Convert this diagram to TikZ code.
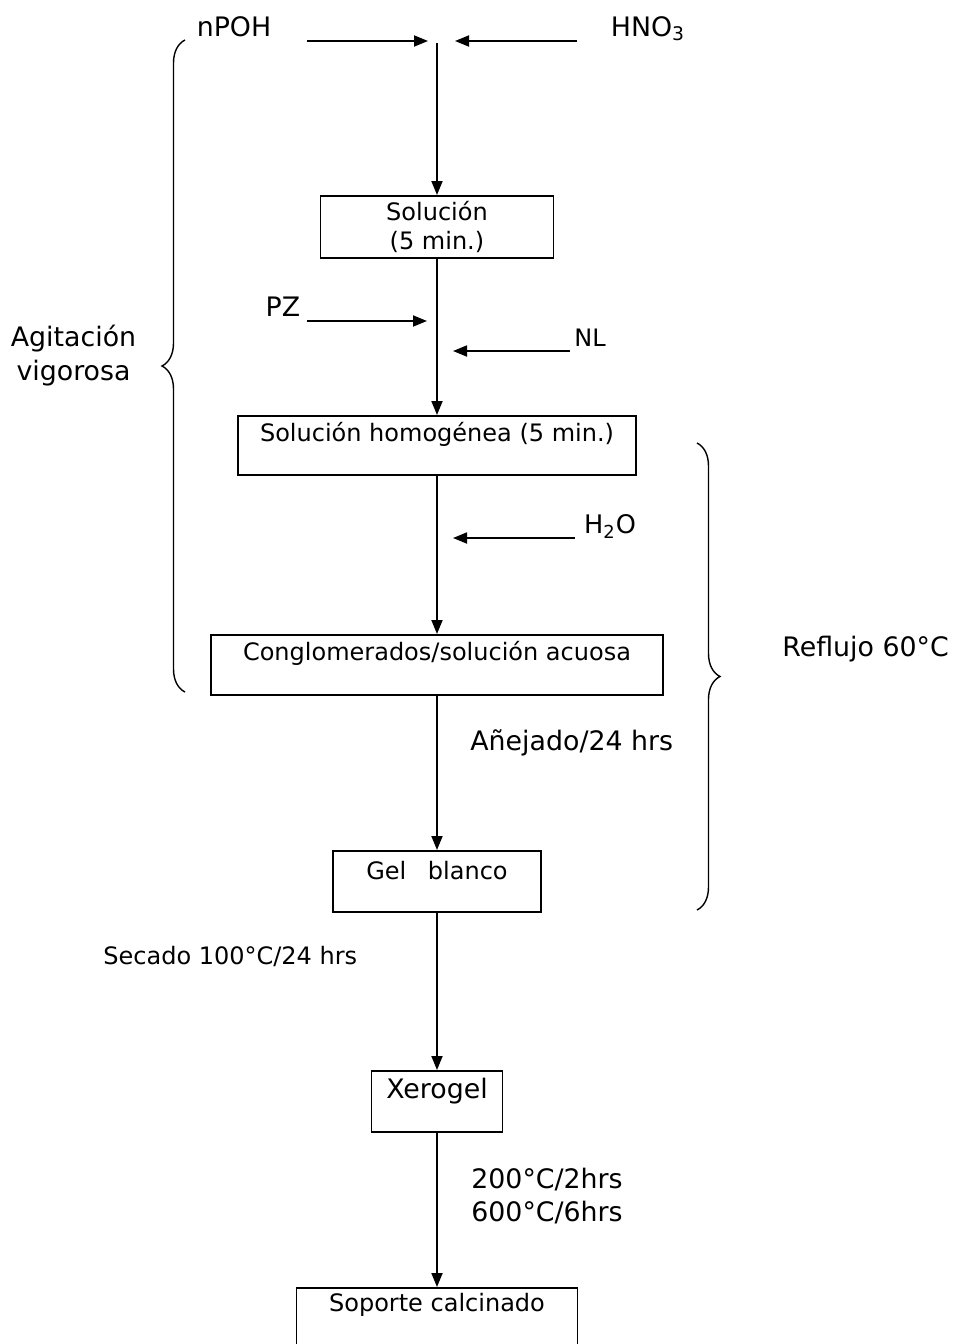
\documentclass[tikz,border=0pt]{standalone}
\usepackage{fontspec}
\setmainfont{DejaVu Sans}
\usetikzlibrary{arrows.meta,decorations.pathreplacing}

\begin{document}
\begin{tikzpicture}[
  x=0.5pt,y=-0.5pt,
  >={Triangle[length=7pt,width=5.5pt]},
  every node/.style={font=\fontsize{12}{14.5}\selectfont},
  big/.style={font=\fontsize{13.4}{16}\selectfont},
  flow/.style={->,line width=0.9pt},
  box/.style={draw,line width=0.9pt,rectangle,anchor=north,inner xsep=0pt,inner ysep=0pt},
  lab/.style={anchor=base,inner sep=0pt},
  brc/.style={decorate,decoration={brace,amplitude=11.5pt},line width=0.7pt}
]
\useasboundingbox (0,0) rectangle (957,1344);

% process boxes
\node[box,minimum width=116.5pt,minimum height=31pt,align=center] (sol) at (437,195) {Solución\\(5 min.)};
\node[box,minimum width=199pt,text height=13pt,text depth=16.5pt] (hom) at (437,415) {Solución homogénea (5 min.)};
\node[box,minimum width=226pt,text height=13pt,text depth=17pt] (cong) at (437,634) {Conglomerados/solución acuosa};
\node[box,minimum width=104pt,text height=14.5pt,text depth=16pt] (gel) at (437,850) {Gel\hspace{0.9em}blanco};
\node[box,big,minimum width=65.5pt,text height=14pt,text depth=16.5pt] (xero) at (437,1070) {Xerogel};
\node[box,minimum width=140.5pt,text height=12pt,text depth=22pt] (sop) at (437,1287) {Soporte calcinado};

% main line
\coordinate (top) at (437,43);
\draw[flow] (top) -- (sol);
\draw[flow] (sol) -- (hom);
\draw[flow] (hom) -- (cong);
\draw[flow] (cong) -- (gel);
\draw[flow] (gel) -- (xero);
\draw[flow] (xero) -- (sop);

% reagents
\node[lab,big] (npoh) at (234,36) {nPOH};
\node[lab,big] (hno) at (648,36) {HNO\textsubscript{3}};
\node[lab,big] (pz) at (283,316) {PZ};
\node[lab] (nl) at (590,346) {NL};
\node[lab,font=\fontsize{12.8}{15}\selectfont] (agua) at (610,533) {H\textsubscript{2}O};

\coordinate (npoh-a) at (307,41);
\coordinate (npoh-b) at (428,41);
\coordinate (hno-a) at (577,41);
\coordinate (hno-b) at (455,41);
\coordinate (pz-a) at (307,321);
\coordinate (pz-b) at (427,321);
\coordinate (nl-a) at (570,351);
\coordinate (nl-b) at (453,351);
\coordinate (agua-a) at (575,538);
\coordinate (agua-b) at (453,538);

\draw[flow] (npoh-a) -- (npoh-b);
\draw[flow] (hno-a) -- (hno-b);
\draw[flow] (pz-a) -- (pz-b);
\draw[flow] (nl-a) -- (nl-b);
\draw[flow] (agua-a) -- (agua-b);

% conditions
\node[lab,big,anchor=base west] (anej) at (470,750) {Añejado/24 hrs};
\node[lab,anchor=base west] (sec) at (103,964) {Secado 100°C/24 hrs};
\node[lab,big,anchor=west,align=left] (calc) at (471,1196) {200°C/2hrs\\[0.5pt]600°C/6hrs};

% braces
\coordinate (agit-a) at (185,692);
\coordinate (agit-b) at (185,40);
\coordinate (refl-a) at (697,443);
\coordinate (refl-b) at (697,910);
\draw[brc] (agit-a) -- (agit-b);
\draw[brc] (refl-a) -- (refl-b);
\node[big,inner sep=0pt,align=center] (agit) at (73.5,356) {Agitación\\[1pt]vigorosa};
\node[lab,big,anchor=base west] (refl) at (782,656) {Reflujo 60°C};

\end{tikzpicture}
\end{document}
